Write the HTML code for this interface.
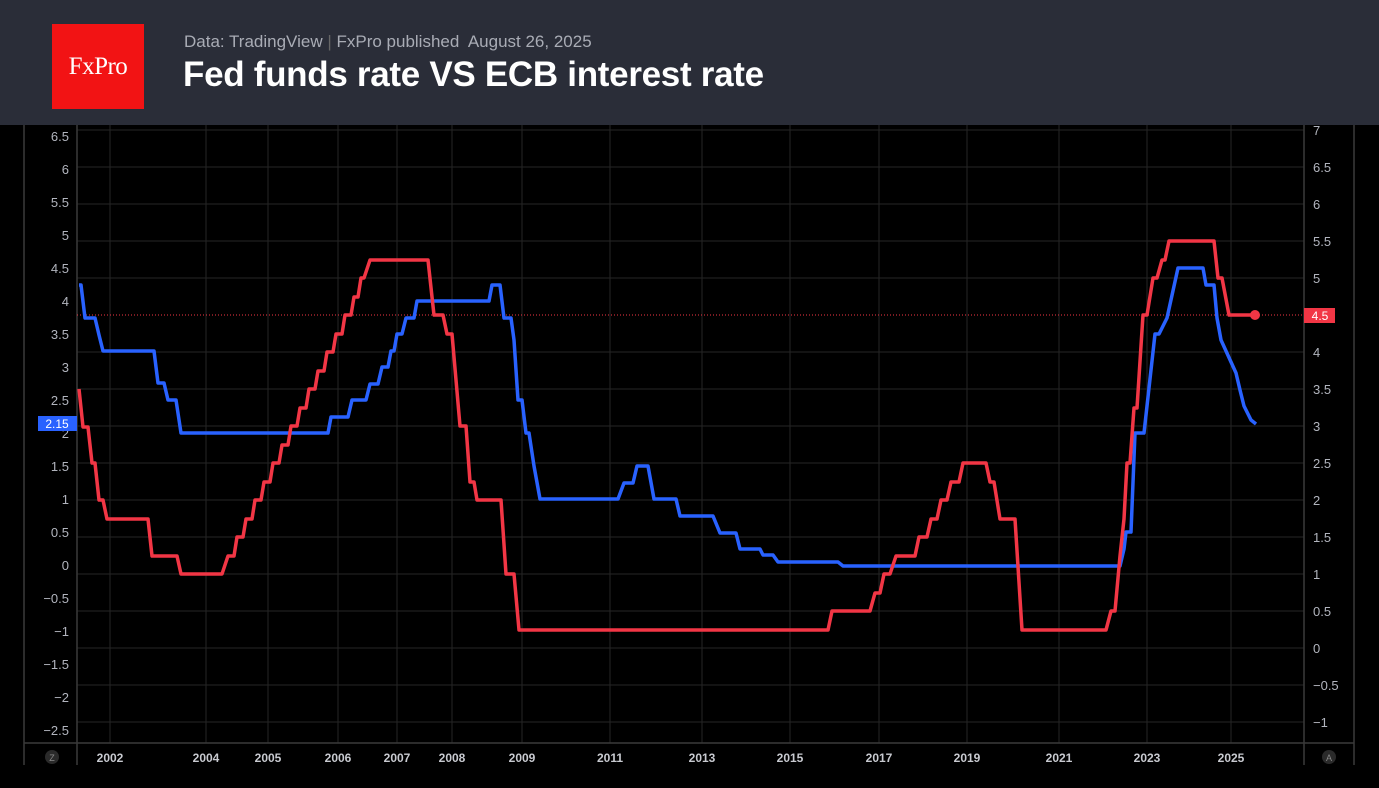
<!DOCTYPE html>
<html><head><meta charset="utf-8"><style>
html,body{margin:0;padding:0;background:#000;}
body{width:1379px;height:788px;overflow:hidden;position:relative;font-family:"Liberation Sans",sans-serif;}
#hdr{position:absolute;left:0;top:0;width:1379px;height:125px;background:#2a2d38;}
#logo{position:absolute;left:52px;top:24px;width:92px;height:85px;background:#f21314;color:#fff;font-family:"Liberation Serif",serif;font-size:25px;line-height:85px;text-align:center;letter-spacing:-0.5px;}
#sub{position:absolute;left:184px;top:32px;font-size:17px;color:#a9acb5;white-space:nowrap;}
#title{position:absolute;left:183px;top:55px;font-size:35px;color:#fff;font-weight:bold;white-space:nowrap;letter-spacing:-0.3px;}
svg{position:absolute;left:0;top:125px;}
</style></head><body>
<div id="hdr"><div id="logo">FxPro</div>
<div id="sub">Data: TradingView <span style="color:#666">|</span> FxPro published&nbsp; August 26, 2025</div>
<div id="title">Fed funds rate VS ECB interest rate</div></div>
<svg width="1379" height="663" viewBox="0 125 1379 663" font-family="Liberation Sans, sans-serif">
<rect x="0" y="125" width="1379" height="663" fill="#000"/>
<g stroke="#262626" stroke-width="1">
<line x1="77" x2="1304" y1="130" y2="130"/><line x1="77" x2="1304" y1="167" y2="167"/><line x1="77" x2="1304" y1="204" y2="204"/><line x1="77" x2="1304" y1="241" y2="241"/><line x1="77" x2="1304" y1="278" y2="278"/><line x1="77" x2="1304" y1="352" y2="352"/><line x1="77" x2="1304" y1="389" y2="389"/><line x1="77" x2="1304" y1="426" y2="426"/><line x1="77" x2="1304" y1="463" y2="463"/><line x1="77" x2="1304" y1="500" y2="500"/><line x1="77" x2="1304" y1="537" y2="537"/><line x1="77" x2="1304" y1="574" y2="574"/><line x1="77" x2="1304" y1="611" y2="611"/><line x1="77" x2="1304" y1="648" y2="648"/><line x1="77" x2="1304" y1="685" y2="685"/><line x1="77" x2="1304" y1="722" y2="722"/>
<line x1="110" x2="110" y1="125" y2="743"/><line x1="206" x2="206" y1="125" y2="743"/><line x1="268" x2="268" y1="125" y2="743"/><line x1="338" x2="338" y1="125" y2="743"/><line x1="397" x2="397" y1="125" y2="743"/><line x1="452" x2="452" y1="125" y2="743"/><line x1="522" x2="522" y1="125" y2="743"/><line x1="610" x2="610" y1="125" y2="743"/><line x1="702" x2="702" y1="125" y2="743"/><line x1="790" x2="790" y1="125" y2="743"/><line x1="879" x2="879" y1="125" y2="743"/><line x1="967" x2="967" y1="125" y2="743"/><line x1="1059" x2="1059" y1="125" y2="743"/><line x1="1147" x2="1147" y1="125" y2="743"/><line x1="1231" x2="1231" y1="125" y2="743"/>
</g>
<g stroke="#3a3a3a" stroke-width="1.5">
<line x1="24" x2="24" y1="125" y2="765"/><line x1="77" x2="77" y1="125" y2="765"/><line x1="1304" x2="1304" y1="125" y2="765"/><line x1="1354" x2="1354" y1="125" y2="765"/><line x1="24" x2="1354" y1="743" y2="743"/>
</g>
<line x1="77" x2="1304" y1="315" y2="315" stroke="#f23645" stroke-width="1" stroke-dasharray="1,2"/>
<g fill="#b2b5be" font-size="13" text-anchor="end">
<text x="69" y="141">6.5</text><text x="69" y="174">6</text><text x="69" y="207">5.5</text><text x="69" y="240">5</text><text x="69" y="273">4.5</text><text x="69" y="306">4</text><text x="69" y="339">3.5</text><text x="69" y="372">3</text><text x="69" y="405">2.5</text><text x="69" y="438">2</text><text x="69" y="471">1.5</text><text x="69" y="504">1</text><text x="69" y="537">0.5</text><text x="69" y="570">0</text><text x="69" y="603">−0.5</text><text x="69" y="636">−1</text><text x="69" y="669">−1.5</text><text x="69" y="702">−2</text><text x="69" y="735">−2.5</text>
</g>
<g fill="#b2b5be" font-size="13">
<text x="1313" y="135">7</text><text x="1313" y="172">6.5</text><text x="1313" y="209">6</text><text x="1313" y="246">5.5</text><text x="1313" y="283">5</text><text x="1313" y="357">4</text><text x="1313" y="394">3.5</text><text x="1313" y="431">3</text><text x="1313" y="468">2.5</text><text x="1313" y="505">2</text><text x="1313" y="542">1.5</text><text x="1313" y="579">1</text><text x="1313" y="616">0.5</text><text x="1313" y="653">0</text><text x="1313" y="690">−0.5</text><text x="1313" y="727">−1</text>
</g>
<g fill="#c8cad0" font-size="12" font-weight="bold" text-anchor="middle">
<text x="110" y="762">2002</text><text x="206" y="762">2004</text><text x="268" y="762">2005</text><text x="338" y="762">2006</text><text x="397" y="762">2007</text><text x="452" y="762">2008</text><text x="522" y="762">2009</text><text x="610" y="762">2011</text><text x="702" y="762">2013</text><text x="790" y="762">2015</text><text x="879" y="762">2017</text><text x="967" y="762">2019</text><text x="1059" y="762">2021</text><text x="1147" y="762">2023</text><text x="1231" y="762">2025</text>
</g>
<circle cx="52" cy="757" r="7" fill="#2a2a2a"/><text x="52" y="761" fill="#888" font-size="9" text-anchor="middle">Z</text>
<circle cx="1329" cy="757" r="7" fill="#2a2a2a"/><text x="1329" y="761" fill="#888" font-size="9" text-anchor="middle">A</text>
<polyline fill="none" stroke="#2962ff" stroke-width="3.5" stroke-linejoin="round" points="79,285 81,285 85,318 95,318 99,335 103,351 154,351 158,383 164,383 168,400 176,400 181,433 328,433 331,417 348,417 352,400 366,400 370,384 378,384 382,367 388,367 391,351 394,351 397,334 402,334 406,318 414,318 417,301 489,301 492,285 500,285 504,318 511,318 514,340 518,400 522,400 526,433 529,433 534,466 540,499 618,499 624,483 633,483 637,466 648,466 654,499 676,499 680,516 713,516 720,533 736,533 740,549 760,549 763,555 773,555 778,562 838,562 843,566 1120,566 1124,549 1126,532 1131,532 1135,433 1144,433 1155,334 1159,334 1167,318 1178,268 1203,268 1206,285 1214,285 1217,318 1221,340 1236,373 1240,390 1244,406 1251,420 1256,424"/>
<polyline fill="none" stroke="#f23645" stroke-width="3.5" stroke-linejoin="round" points="79,389 83,427 88,427 92,463 95,463 99,500 103,500 107,519 148,519 152,556 177,556 181,574 222,574 228,556 234,556 237,537 243,537 246,519 252,519 255,500 261,500 264,482 270,482 273,463 279,463 282,445 288,445 291,426 297,426 300,408 306,408 309,389 315,389 318,371 324,371 327,352 333,352 336,334 342,334 345,315 351,315 354,297 358,297 361,278 364,278 370,260 428,260 432,297 434,315 443,315 447,334 452,334 456,380 460,426 466,426 470,482 474,482 477,500 501,500 506,574 514,574 519,630 828,630 832,611 870,611 875,593 880,593 884,574 890,574 896,556 915,556 919,537 927,537 931,519 937,519 941,500 947,500 951,482 959,482 963,463 986,463 990,482 994,482 1000,519 1015,519 1022,630 1106,630 1111,611 1115,611 1120,556 1124,519 1127,463 1130,463 1134,408 1137,408 1143,315 1147,315 1153,278 1157,278 1162,260 1165,260 1169,241 1214,241 1218,278 1222,278 1229,315 1255,315"/>
<circle cx="1255" cy="315" r="5" fill="#f23645"/>
<rect x="38" y="416" width="39" height="15" fill="#2962ff"/><text x="57" y="428" fill="#fff" font-size="12" text-anchor="middle">2.15</text>
<rect x="1304" y="308" width="31" height="15" fill="#f23645"/><text x="1320" y="320" fill="#fff" font-size="12" text-anchor="middle">4.5</text>
</svg>
</body></html>
